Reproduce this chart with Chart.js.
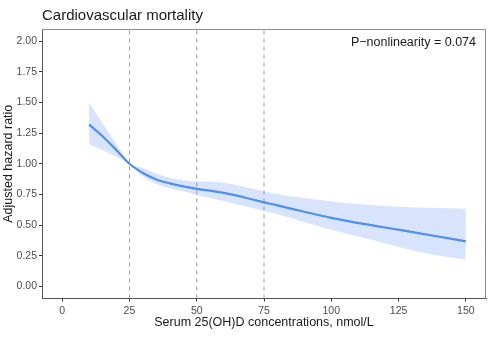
<!DOCTYPE html>
<html>
<head>
<meta charset="utf-8">
<script src="https://cdn.jsdelivr.net/npm/chart.js@4.4.1/dist/chart.umd.min.js"></script>
<style>
  html, body { margin: 0; padding: 0; background: #fff; }
  #wrap { width: 490px; height: 338px; }
</style>
</head>
<body>
<div id="wrap"><canvas id="rcsChart" width="490" height="338"></canvas></div>
<script>
// serum 25(OH)D, nmol/L
const conc = [10, 15, 20, 25, 30, 35, 40, 45, 50, 55, 60, 65, 70, 75, 80, 90, 100, 112.5, 125, 137.5, 150];
// adjusted hazard ratio and its 95% CI
const hr = [1.32, 1.225, 1.115, 1.00, 0.925, 0.872, 0.84, 0.815, 0.795, 0.78, 0.762, 0.74, 0.712, 0.685, 0.66, 0.608, 0.558, 0.507, 0.462, 0.414, 0.367];
const hrUpper = [1.50, 1.33, 1.165, 1.005, 0.965, 0.92, 0.885, 0.865, 0.855, 0.855, 0.845, 0.825, 0.80, 0.775, 0.752, 0.72, 0.692, 0.667, 0.65, 0.64, 0.632];
const hrLower = [1.16, 1.11, 1.06, 0.995, 0.895, 0.835, 0.80, 0.775, 0.745, 0.72, 0.695, 0.668, 0.642, 0.615, 0.588, 0.525, 0.462, 0.393, 0.32, 0.26, 0.217];
// reference cut points
const cutPoints = [25, 50, 75];

const xTicks = [0, 25, 50, 75, 100, 125, 150];
const yTicks = [0, 0.25, 0.5, 0.75, 1, 1.25, 1.5, 1.75, 2];
const xMin = -7.5, xMax = 157.5;
const yMin = -0.1, yMax = 2.1;

const plotTitle = 'Cardiovascular mortality';
const pNote = 'P\u2212nonlinearity = 0.074';

Chart.defaults.font.family = "'Liberation Sans', Arial, sans-serif";
Chart.defaults.color = '#4d4d4d';

function pts(ys) {
    return conc.map((x, i) => ({ x: x, y: ys[i] }));
}

let cutSets = cutPoints.map(c => ({
    data: [{ x: c, y: yMin }, { x: c, y: yMax }],
    borderColor: '#9a9a9a',
    borderWidth: 1,
    borderDash: [4, 4],
    pointRadius: 0,
    fill: false,
    order: 1
}));

// title, p-value note and the top/right panel border
const extras = {
    id: 'extras',
    afterDraw(chart) {
        let ctx = chart.ctx;
        let a = chart.chartArea;
        ctx.save();
        ctx.strokeStyle = '#8c8c8c';
        ctx.lineWidth = 1;
        ctx.beginPath();
        ctx.moveTo(a.left, a.top + 0.5);
        ctx.lineTo(a.right - 0.5, a.top + 0.5);
        ctx.lineTo(a.right - 0.5, a.bottom);
        ctx.stroke();

        ctx.fillStyle = '#1a1a1a';
        ctx.textBaseline = 'alphabetic';
        ctx.textAlign = 'left';
        ctx.font = "15px 'Liberation Sans', Arial, sans-serif";
        ctx.fillText(plotTitle, a.left, 20);

        ctx.textAlign = 'right';
        ctx.font = "12.5px 'Liberation Sans', Arial, sans-serif";
        ctx.fillText(pNote, a.right - 10, 46);
        ctx.restore();
    }
};

new Chart(document.getElementById('rcsChart'), {
    type: 'line',
    data: {
        datasets: [
            {
                data: pts(hr),
                borderColor: '#4f8ff0',
                borderWidth: 2.2,
                pointRadius: 0,
                fill: false,
                cubicInterpolationMode: 'monotone',
                order: 0
            },
            ...cutSets,
            {
                data: pts(hrUpper),
                borderWidth: 0,
                borderColor: 'rgba(0,0,0,0)',
                backgroundColor: '#d8e4fc',
                pointRadius: 0,
                fill: '+1',
                cubicInterpolationMode: 'monotone',
                order: 2
            },
            {
                data: pts(hrLower),
                borderWidth: 0,
                borderColor: 'rgba(0,0,0,0)',
                pointRadius: 0,
                fill: false,
                cubicInterpolationMode: 'monotone',
                order: 2
            }
        ]
    },
    options: {
        responsive: false,
        animation: false,
        devicePixelRatio: 1,
        layout: {
            padding: { top: 29, right: 4, left: 0, bottom: 0 }
        },
        plugins: {
            legend: { display: false },
            tooltip: { enabled: false },
            title: { display: false }
        },
        scales: {
            x: {
                type: 'linear',
                min: xMin,
                max: xMax,
                afterBuildTicks: (s) => { s.ticks = xTicks.map(v => ({ value: v })); },
                afterFit: (s) => { s.height = 39.5; },
                grid: {
                    drawOnChartArea: false,
                    drawTicks: true,
                    tickLength: 3,
                    tickColor: '#333333',
                    tickWidth: 1
                },
                border: { display: true, color: '#555555', width: 1 },
                ticks: {
                    padding: 3,
                    maxRotation: 0,
                    font: { size: 10.5 },
                    color: '#4d4d4d',
                    callback: (v) => String(v)
                },
                title: {
                    display: true,
                    text: 'Serum 25(OH)D concentrations, nmol/L',
                    color: '#1a1a1a',
                    font: { size: 12.5 },
                    padding: { top: 0, bottom: 8 }
                }
            },
            y: {
                type: 'linear',
                min: yMin,
                max: yMax,
                afterBuildTicks: (s) => { s.ticks = yTicks.map(v => ({ value: v })); },
                afterFit: (s) => { s.width = 42; },
                grid: {
                    drawOnChartArea: false,
                    drawTicks: true,
                    tickLength: 3,
                    tickColor: '#333333',
                    tickWidth: 1
                },
                border: { display: true, color: '#555555', width: 1 },
                ticks: {
                    padding: 2,
                    font: { size: 10.5 },
                    color: '#4d4d4d',
                    callback: (v) => v.toFixed(2)
                },
                title: {
                    display: true,
                    text: 'Adjusted hazard ratio',
                    color: '#1a1a1a',
                    font: { size: 12.5 },
                    padding: { top: 1, bottom: 0 }
                }
            }
        }
    },
    plugins: [extras]
});
</script>
</body>
</html>
